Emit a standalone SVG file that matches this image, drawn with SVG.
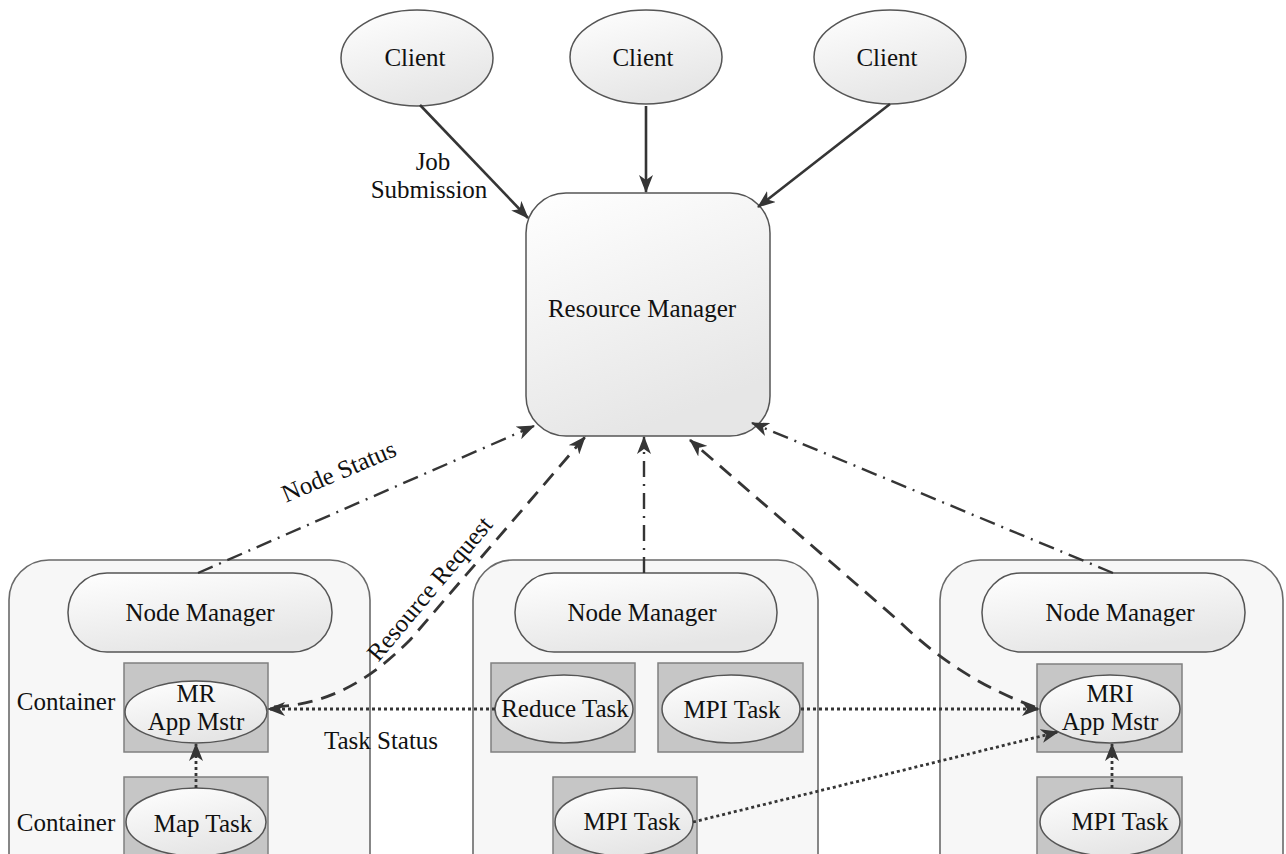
<svg xmlns="http://www.w3.org/2000/svg" width="1286" height="854" viewBox="0 0 1286 854">
<style>
  text { font-family: "Liberation Serif", "Times New Roman", serif; font-size: 25px; fill: #111111; text-anchor: middle; }
  .outer { fill: #f7f7f7; stroke: #6a6a6a; stroke-width: 1.6; }
  .node { fill: url(#g); stroke: #555555; stroke-width: 1.5; }
  .cont { fill: #c6c6c6; stroke: #808080; stroke-width: 1.5; }
  .solid { fill: none; stroke: #353535; stroke-width: 2.6; marker-end: url(#arr); }
  .dashdot { fill: none; stroke: #353535; stroke-width: 2.4; stroke-dasharray: 16 7 2 7; }
  .dashed { fill: none; stroke: #353535; stroke-width: 2.8; stroke-dasharray: 15 9; }
  .dotted { fill: none; stroke: #353535; stroke-width: 2.8; stroke-dasharray: 3 3; }
  .arrow { marker-end: url(#arr); }
</style>
<defs>
  <linearGradient id="g" x1="0" y1="0" x2="0.4" y2="1">
    <stop offset="0" stop-color="#ffffff"/>
    <stop offset="1" stop-color="#e6e6e6"/>
  </linearGradient>
  <marker id="arr" markerUnits="userSpaceOnUse" markerWidth="18" markerHeight="14" refX="17" refY="7" orient="auto">
    <path d="M0,0 L18,7 L0,14 L5,7 z" fill="#353535"/>
  </marker>
</defs>
<rect width="1286" height="854" fill="#ffffff"/>

<g id="client1"><ellipse class="node" cx="417" cy="58" rx="76" ry="48"/><text x="415" y="66">Client</text></g>
<g id="client2"><ellipse class="node" cx="646" cy="57" rx="76" ry="47"/><text x="643" y="66">Client</text></g>
<g id="client3"><ellipse class="node" cx="890" cy="57" rx="76" ry="47"/><text x="887" y="66">Client</text></g>

<g id="resource-manager"><rect class="node" x="526" y="193" width="244" height="243" rx="40"/><text x="642" y="317">Resource Manager</text></g>

<g id="node1">
  <rect class="outer" x="9" y="560" width="361" height="340" rx="40"/>
  <g id="nm1"><rect class="node" x="68" y="573" width="264" height="79" rx="39"/><text x="200" y="621">Node Manager</text></g>
  <text x="66" y="710">Container</text>
  <text x="66" y="831">Container</text>
  <g id="mr-am"><rect class="cont" x="124" y="663" width="144" height="89"/><ellipse class="node" cx="196" cy="712" rx="71" ry="31"/><text x="196" y="702">MR</text><text x="196" y="730">App Mstr</text></g>
  <g id="map-task"><rect class="cont" x="124" y="777" width="144" height="120"/><ellipse class="node" cx="196" cy="822" rx="70" ry="34"/><text x="203" y="832">Map Task</text></g>
</g>

<g id="node2">
  <rect class="outer" x="473" y="560" width="345" height="340" rx="40"/>
  <g id="nm2"><rect class="node" x="515" y="573" width="262" height="79" rx="39"/><text x="642" y="621">Node Manager</text></g>
  <g id="reduce-task"><rect class="cont" x="491" y="663" width="144" height="89"/><ellipse class="node" cx="564" cy="709" rx="69" ry="34"/><text x="565" y="717">Reduce Task</text></g>
  <g id="mpi-task-a"><rect class="cont" x="658" y="663" width="145" height="89"/><ellipse class="node" cx="731" cy="709" rx="69" ry="34"/><text x="732" y="718">MPI Task</text></g>
  <g id="mpi-task-b"><rect class="cont" x="553" y="777" width="144" height="120"/><ellipse class="node" cx="624" cy="822" rx="69" ry="34"/><text x="632" y="830">MPI Task</text></g>
</g>

<g id="node3">
  <rect class="outer" x="940" y="560" width="343" height="340" rx="40"/>
  <g id="nm3"><rect class="node" x="982" y="573" width="263" height="79" rx="39"/><text x="1120" y="621">Node Manager</text></g>
  <g id="mri-am"><rect class="cont" x="1037" y="664" width="145" height="88"/><ellipse class="node" cx="1110" cy="709" rx="70" ry="34"/><text x="1110" y="702">MRI</text><text x="1110" y="730">App Mstr</text></g>
  <g id="mpi-task-c"><rect class="cont" x="1037" y="777" width="145" height="120"/><ellipse class="node" cx="1110" cy="822" rx="70" ry="34"/><text x="1120" y="830">MPI Task</text></g>
</g>

<g id="connectors">
  <path class="solid" d="M420 105 L528 218"/>
  <path class="solid" d="M646 106 L646 192"/>
  <path class="solid" d="M890 104 L758 207"/>
  <text x="433" y="170">Job</text>
  <text x="429" y="198">Submission</text>

  <path class="dashdot arrow" d="M198 573 L534 426"/>
  <path class="dashdot arrow" d="M644 573 L644 437"/>
  <path class="dashdot arrow" d="M1113 573 L752 423"/>
  <text transform="translate(342,479) rotate(-23)">Node Status</text>

  <path class="dashed arrow" d="M274 707 C330 704 370 680 410 640 L585 437"/>
  <text transform="translate(436,594) rotate(-50)">Resource Request</text>
  <path class="dashed arrow" d="M1035 707 Q960 680 900 622 L690 440"/>

  <path class="dotted arrow" d="M495 709 L268 709"/>
  <text x="381" y="749">Task Status</text>
  <path class="dotted arrow" d="M801 709 L1039 709"/>
  <path class="dotted arrow" d="M693 822 L1058 732"/>
  <path class="dotted arrow" d="M196 788 L196 744"/>
  <path class="dotted arrow" d="M1112 788 L1112 744"/>
</g>
</svg>
